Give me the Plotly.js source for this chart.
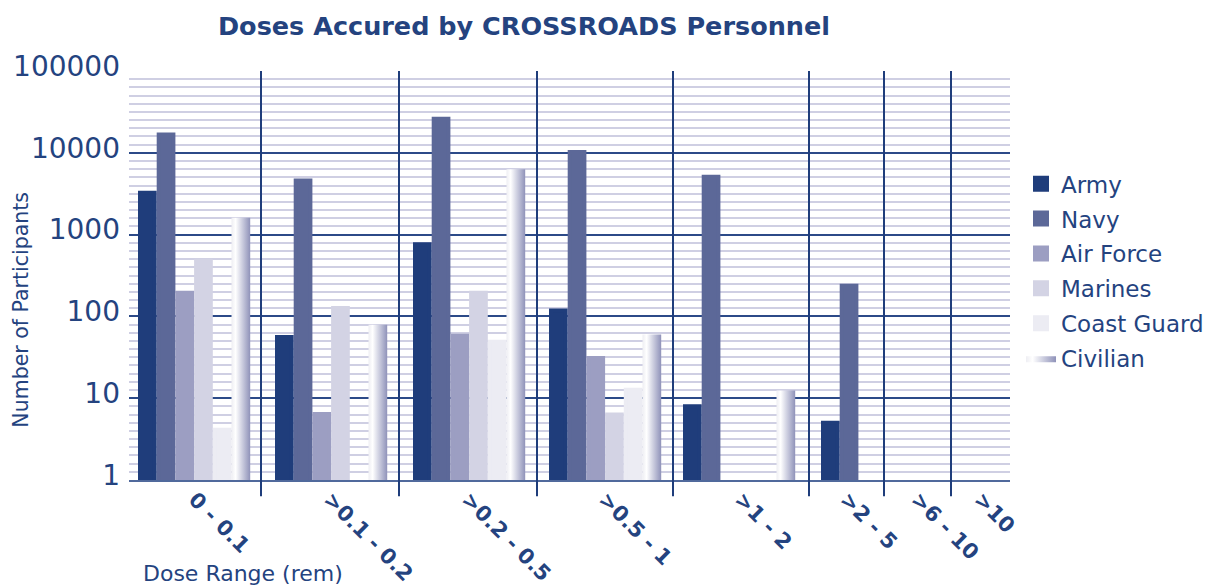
<!DOCTYPE html>
<html><head><meta charset="utf-8">
<script src="https://cdn.plot.ly/plotly-3.0.1.min.js"></script>
<style>html,body{margin:0;padding:0;background:#fff}#chart{width:1209px;height:587px}</style>
</head><body><div id="chart"></div>
<script>
// ---- data ----
const categories = ['0 - 0.1', '>0.1 - 0.2', '>0.2 - 0.5', '>0.5 - 1', '>1 - 2', '>2 - 5', '>6 - 10', '>10'];
const seriesNames = ['Army', 'Navy', 'Air Force', 'Marines', 'Coast Guard', 'Civilian'];
const army       = [3250, 56, 760, 118, 8.0, 5.0, null, null];
const navy       = [16700, 4570, 26000, 10200, 5100, 237, null, null];
const airForce   = [195, 6.4, 58, 31, null, null, null, null];
const marines    = [480, 127, 195, 6.3, null, null, null, null];
const coastGuard = [4.1, null, 49, 12.7, null, null, null, null];
const civilian   = [1610, 79, 6300, 60, 12.4, null, null, null];
const yTickVals  = [1, 10, 100, 1000, 10000, 100000];
const yTickText  = ['1', '10', '100', '1000', '10000', '100000'];

// ---- layout helpers (positions / styles) ----
const catEdges = [0, 132, 270, 408, 544, 680, 755, 822, 881]; // category band edges on x axis
const groupOffset = [9, 14, 14, 12, 10, 12, 12, 12];
const barW = 18.7;
const outline = 4;
const colors = ['#1f3d7b', '#5c6898', '#9c9ec2', '#d3d3e4', '#ececf3'];
const civScale = [[0, '#eeeef3'], [0.22, '#ffffff'], [1, '#8f92b9']];
const navyText = '#24437f';

function slotX(i, j) { return catEdges[i] + groupOffset[i] + (j + 0.5) * barW; }
const catCenters = categories.map((c, i) => (catEdges[i] + catEdges[i + 1]) / 2);

const traces = [];
[army, navy, airForce, marines, coastGuard].forEach((vals, j) => {
  traces.push({
    type: 'bar', name: seriesNames[j],
    x: vals.map((v, i) => slotX(i, j)),
    y: vals, width: barW - outline,
    marker: {color: colors[j], line: {width: outline, color: colors[j]}},
    legendgroup: 'g' + j, hoverinfo: 'name+y'
  });
});
let first = true;
civilian.forEach((v, i) => {
  if (v === null) return;
  const cx = slotX(i, 5), l = cx - barW / 2, r = cx + barW / 2;
  traces.push({
    type: 'scatter', mode: 'lines', name: seriesNames[5],
    x: [l, r, r, l, l], y: [1, 1, v, v, 1],
    fill: 'toself', line: {width: 0, color: '#8f92b9'},
    fillgradient: {type: 'horizontal', colorscale: civScale},
    legendgroup: 'civ', showlegend: first, hoverinfo: 'name'
  });
  first = false;
});

const minorVals = [];
for (let d = 0; d < 5; d++) for (let k = 1; k < 10; k++) minorVals.push(Math.pow(10, d + k / 10));

const shapes = catEdges.slice(1, -1).map(e => ({
  type: 'line', xref: 'x', yref: 'paper', x0: e, x1: e, y0: -0.04, y1: 1,
  line: {color: '#1f3d7b', width: 2}, layer: 'above'
}));

const layout = {
  width: 1209, height: 587,
  margin: {l: 129, r: 199, t: 71, b: 107, autoexpand: false},
  paper_bgcolor: '#ffffff', plot_bgcolor: '#ffffff',
  title: {text: 'Doses Accured by CROSSROADS Personnel', x: 524 / 1209, xanchor: 'center', y: 0.955, yanchor: 'middle',
          font: {family: 'DejaVu Sans', size: 25.5, weight: 'bold', color: navyText}},
  barmode: 'overlay', bargap: 0,
  showlegend: true,
  legend: {x: 1.0125, xanchor: 'left', y: 0.777, yanchor: 'top', tracegroupgap: 2,
           font: {family: 'DejaVu Sans', size: 23, color: navyText}, bgcolor: 'rgba(0,0,0,0)'},
  xaxis: {range: [0, 881], tickmode: 'array', tickvals: catCenters, ticktext: categories,
          tickangle: 45, ticks: '', showgrid: false, zeroline: false, ticklabelstandoff: -3,
          showline: true, linecolor: '#50699c', linewidth: 2,
          tickfont: {family: 'DejaVu Sans', size: 21, weight: 'bold', color: navyText}},
  yaxis: {type: 'log', range: [0, 5], tickmode: 'array', tickvals: yTickVals, ticktext: yTickText,
          ticks: '', ticklabelstandoff: 8, ticklabelshift: -5,
          showgrid: true, gridcolor: '#2c4a88', gridwidth: 2, zeroline: false, showline: false,
          minor: {tickmode: 'array', tickvals: minorVals, showgrid: true, gridcolor: '#cfcfe3', gridwidth: 2, ticks: ''},
          tickfont: {family: 'DejaVu Sans', size: 28, color: navyText}},
  shapes: shapes,
  annotations: [
    {text: 'Number of Participants', xref: 'paper', yref: 'paper', x: -0.123, y: (480 - 310) / 409,
     textangle: -90, showarrow: false, xanchor: 'center', yanchor: 'middle',
     font: {family: 'DejaVu Sans', size: 20.5, color: navyText}},
    {text: 'Dose Range (rem)', xref: 'paper', yref: 'paper', x: (141 - 129) / 881, y: -(573 - 480) / 409,
     showarrow: false, xanchor: 'left', yanchor: 'middle',
     font: {family: 'DejaVu Sans', size: 22, color: navyText}}
  ]
};

Plotly.newPlot('chart', traces, layout, {displayModeBar: false, staticPlot: true});
</script></body></html>
